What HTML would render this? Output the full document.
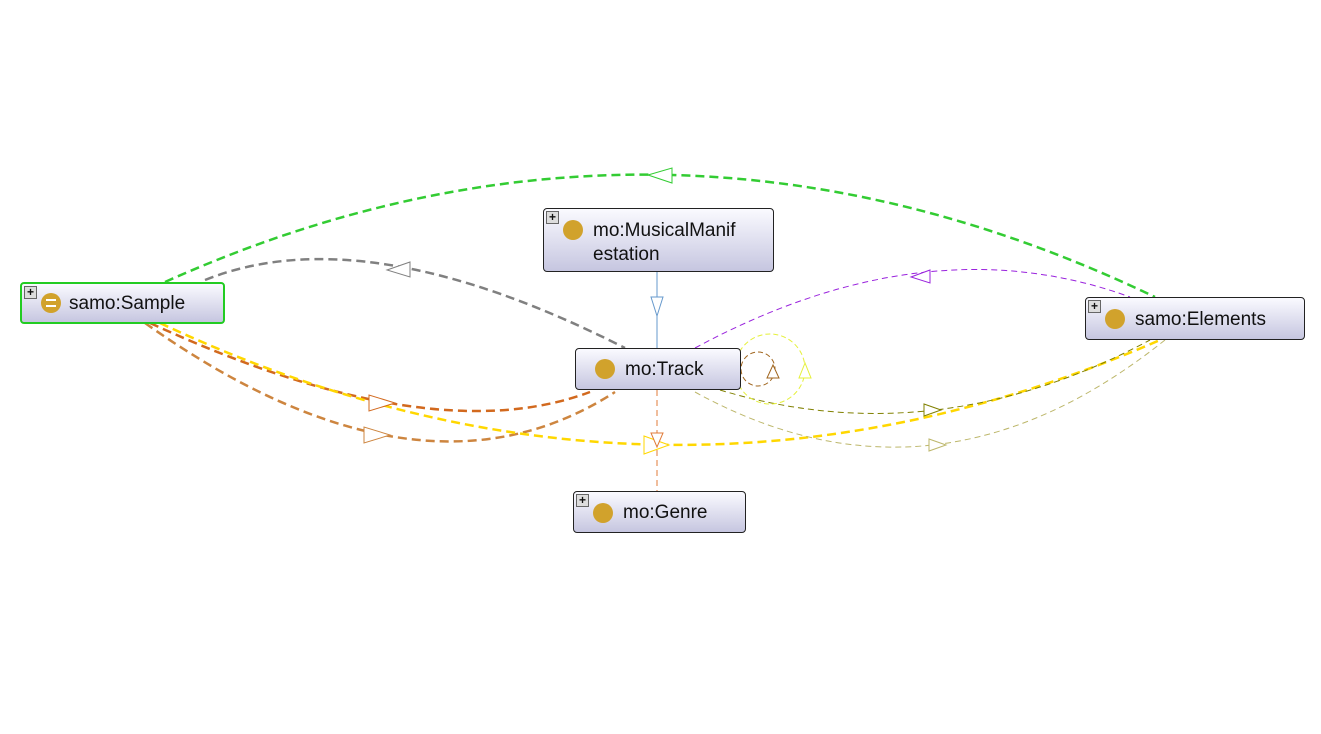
<!DOCTYPE html>
<html><head><style>
body{margin:0;background:#fff;width:1321px;height:734px;overflow:hidden;font-family:"Liberation Sans",sans-serif}
.n{position:absolute;box-sizing:border-box;border:1px solid #222;border-radius:4px;background:linear-gradient(#fafaff,#c6c6e0);font-size:19px;color:#111}
.n .dot{position:absolute;width:20px;height:20px;border-radius:50%;background:#d1a22c}
.n .pl{position:absolute;left:2px;top:2px;width:11px;height:11px;border:1px solid #666;background:#ddd;font-size:12px;line-height:10px;text-align:center;font-weight:bold}
.n .t{position:absolute}
</style></head><body>
<svg width="1321" height="734" style="position:absolute;left:0;top:0" fill="none">
<path d="M165,282 Q660,60 1155,297" stroke="#33cc33" stroke-width="2.5" stroke-dasharray="9,5"/>
<path d="M205,280 Q365,216 625,348" stroke="#808080" stroke-width="2.5" stroke-dasharray="9,5"/>
<path d="M695,348 Q927,223 1130,297" stroke="#9922dd" stroke-width="1" stroke-dasharray="6,4"/>
<path d="M150,323 Q430,452 590,392" stroke="#d2691e" stroke-width="2.5" stroke-dasharray="9,5"/>
<path d="M145,323 Q420,518 615,392" stroke="#cd853f" stroke-width="2.5" stroke-dasharray="9,5"/>
<path d="M160,323 Q660,558 1160,340" stroke="#ffd700" stroke-width="2.5" stroke-dasharray="9,5"/>
<path d="M720,390 Q935,455 1150,340" stroke="#808000" stroke-width="1" stroke-dasharray="6,4"/>
<path d="M695,392 Q935,524 1165,340" stroke="#bdb76b" stroke-width="1" stroke-dasharray="6,4"/>
<line x1="657" y1="272" x2="657" y2="348" stroke="#6699cc" stroke-width="1"/>
<line x1="657" y1="390" x2="657" y2="491" stroke="#e07b39" stroke-width="1" stroke-dasharray="6,4"/>
<circle cx="758" cy="369" r="17" stroke="#a0661f" stroke-dasharray="5,3"/>
<circle cx="770" cy="369" r="35" stroke="#e5f03a" stroke-dasharray="5,3"/>
<g fill="#fff" stroke-width="1">
<polygon points="648,175 672,168 672,183" stroke="#33cc33"/>
<polygon points="387,270 410,262 410,277" stroke="#808080"/>
<polygon points="911,277 930,270 930,283" stroke="#9922dd"/>
<polygon points="395,403 369,395 369,411" stroke="#d2691e"/>
<polygon points="390,435 364,427 364,443" stroke="#cd853f"/>
<polygon points="669,445 644,436 644,454" stroke="#ffd700"/>
<polygon points="941,410 924,404 924,416" stroke="#808000"/>
<polygon points="946,445 929,439 929,451" stroke="#bdb76b"/>
<polygon points="657,316 651,297 663,297" stroke="#6699cc"/>
<polygon points="657,447 651,433 663,433" stroke="#e07b39"/>
<polygon points="773,365 767,378 779,378" stroke="#a0661f"/>
<polygon points="805,363 799,378 811,378" stroke="#e5f03a"/>
</g>
</svg>
<div class="n" style="left:20px;top:282px;width:205px;height:42px;border:2px solid #22cc22"><div class="pl">+</div><div class="dot" style="left:19px;top:9px"><div style="position:absolute;left:5px;top:6px;width:10px;height:8px;border-top:2px solid #fff;border-bottom:2px solid #fff;box-sizing:border-box"></div></div><div class="t" style="left:47px;top:9px">samo:Sample</div></div>
<div class="n" style="left:543px;top:208px;width:231px;height:64px"><div class="pl">+</div><div class="dot" style="left:19px;top:11px"></div><div class="t" style="left:49px;top:10px;line-height:24px">mo:MusicalManif<br>estation</div></div>
<div class="n" style="left:575px;top:348px;width:166px;height:42px"><div class="dot" style="left:19px;top:10px"></div><div class="t" style="left:49px;top:10px">mo:Track</div></div>
<div class="n" style="left:1085px;top:297px;width:220px;height:43px"><div class="pl">+</div><div class="dot" style="left:19px;top:11px"></div><div class="t" style="left:49px;top:11px">samo:Elements</div></div>
<div class="n" style="left:573px;top:491px;width:173px;height:42px"><div class="pl">+</div><div class="dot" style="left:19px;top:11px"></div><div class="t" style="left:49px;top:10px">mo:Genre</div></div>
</body></html>
